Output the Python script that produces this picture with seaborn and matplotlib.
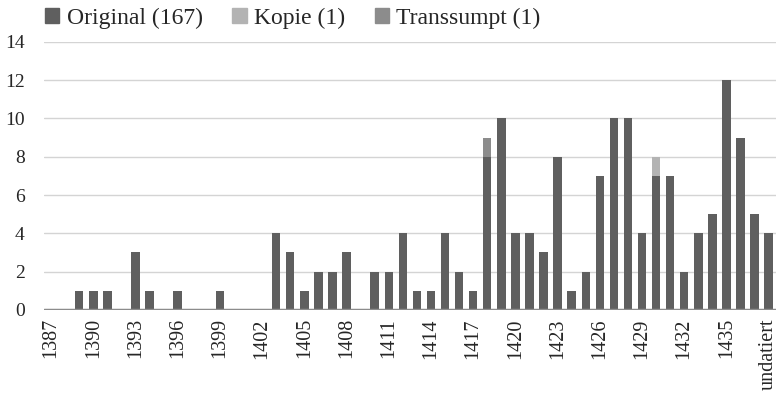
import matplotlib
matplotlib.use("Agg")
import matplotlib.pyplot as plt
import matplotlib.patches as mpatches
import seaborn as sns
import numpy as np
import pandas as pd

years = [str(y) for y in range(1387, 1438)] + ["undatiert"]
original = [0, 0, 1, 1, 1, 0, 3, 1, 0, 1, 0, 0, 1, 0, 0, 0, 4, 3, 1, 2,
            2, 3, 0, 2, 2, 4, 1, 1, 4, 2, 1, 8, 10, 4, 4, 3, 8, 1, 2, 7,
            10, 10, 4, 7, 7, 2, 4, 5, 12, 9, 5, 4]
kopie = [0] * 52
kopie[years.index("1430")] = 1
transsumpt = [0] * 52
transsumpt[years.index("1418")] = 1
series_names = ["Original (167)", "Kopie (1)", "Transsumpt (1)"]
colors = ["#5f5f5f", "#b3b3b3", "#8c8c8c"]
tick_labels = [y if i % 3 == 0 else "" for i, y in enumerate(years)]

sns.set_theme(style="white")
plt.rcParams["font.family"] = ["Liberation Serif", "DejaVu Serif"]

fig = plt.figure(figsize=(7.78, 4.03), dpi=100)
ax = fig.add_axes([0.0566, 0.231, 0.9404, 0.665])

o = np.array(original)
k = np.array(kopie)
t = np.array(transsumpt)
df = pd.DataFrame({"year": years, "o": o, "ok": o + k, "okt": o + k + t})

w = 0.6
for col, c in zip(["okt", "ok", "o"], [colors[2], colors[1], colors[0]]):
    sns.barplot(data=df, x="year", y=col, order=years, color=c,
                saturation=1, width=w, ax=ax, zorder=3, linewidth=0,
                edgecolor="none")

ax.set_ylim(0, 14)
ax.set_xlim(-0.5, len(years) - 0.5)
ax.set_yticks(range(0, 15, 2))
for yv in range(2, 15, 2):
    ax.axhline(yv, color="#d4d4d4", lw=1.0, zorder=1)
ax.axhline(0, color="#8c8c8c", lw=2.5, zorder=4)

ax.set_xticks(range(len(years)))
ax.set_xticklabels(tick_labels, rotation=90, fontsize=14.5)
ax.tick_params(axis="y", labelsize=14, length=0, pad=14)
ax.tick_params(axis="x", length=0, pad=6)
ax.set_xlabel("")
ax.set_ylabel("")
for s in ax.spines.values():
    s.set_visible(False)

handles = [mpatches.Patch(color=c, label=n) for c, n in zip(colors, series_names)]
fig.legend(handles=handles, loc="center left", bbox_to_anchor=(0.058, 0.955),
           ncol=3, frameon=False, fontsize=17, handlelength=0.6,
           handleheight=0.6, handletextpad=0.32, columnspacing=1.25,
           borderaxespad=0, borderpad=0)

fig.savefig("out.png", dpi=100)
